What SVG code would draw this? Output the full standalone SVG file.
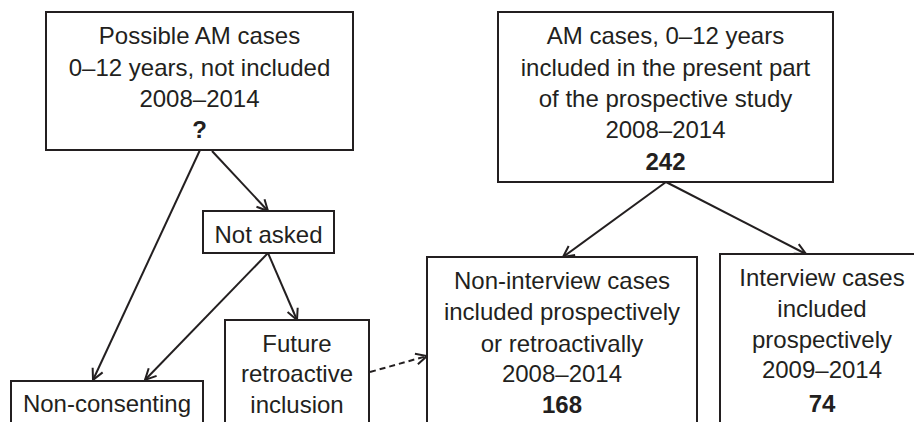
<svg xmlns="http://www.w3.org/2000/svg" width="914" height="422" viewBox="0 0 914 422">
<style>
.box{fill:#fff;stroke:#231f20;stroke-width:2}
.t{font-family:"Liberation Sans",Arial,sans-serif;font-size:24px;fill:#231f20;text-anchor:middle}
.b{font-weight:bold}
.c{stroke:#231f20;stroke-width:2;fill:none;marker-end:url(#ah)}
.d{stroke-dasharray:6,4}
</style>
<defs>
<marker id="ah" markerUnits="userSpaceOnUse" markerWidth="14" markerHeight="14" viewBox="0 0 14 14" refX="12" refY="7" orient="auto">
<path d="M1,1.5 L12,7 L1,12.5" fill="none" stroke="#231f20" stroke-width="2"/>
</marker>
</defs>
<rect width="914" height="422" fill="#fff"/>
<g id="connectors">
<line class="c" x1="200" y1="150" x2="93" y2="380"/>
<line class="c" x1="212" y1="151" x2="268" y2="211"/>
<line class="c" x1="268" y1="253" x2="145" y2="380"/>
<line class="c" x1="268" y1="253" x2="297" y2="320"/>
<line class="c d" x1="370" y1="372" x2="427" y2="356"/>
<line class="c" x1="666" y1="182" x2="563" y2="257"/>
<line class="c" x1="666" y1="182" x2="806" y2="254"/>
</g>
<g id="possible">
<rect class="box" x="46" y="12" width="307" height="138"/>
<text class="t" x="199.5" y="44">Possible AM cases</text>
<text class="t" x="199.5" y="76">0–12 years, not included</text>
<text class="t" x="199.5" y="107">2008–2014</text>
<text class="t b" x="199.5" y="138">?</text>
</g>
<g id="included">
<rect class="box" x="498" y="12" width="335" height="170"/>
<text class="t" x="665.5" y="44">AM cases, 0–12 years</text>
<text class="t" x="665.5" y="76">included in the present part</text>
<text class="t" x="665.5" y="107">of the prospective study</text>
<text class="t" x="665.5" y="138">2008–2014</text>
<text class="t b" x="665.5" y="170">242</text>
</g>
<g id="notasked">
<rect class="box" x="203" y="211" width="131" height="42"/>
<text class="t" x="268.5" y="243">Not asked</text>
</g>
<g id="future">
<rect class="box" x="225" y="320" width="144" height="110"/>
<text class="t" x="297" y="352">Future</text>
<text class="t" x="297" y="382">retroactive</text>
<text class="t" x="297" y="413">inclusion</text>
</g>
<g id="nonconsenting">
<rect class="box" x="11" y="381" width="192" height="50"/>
<text class="t" x="107" y="412">Non-consenting</text>
</g>
<g id="noninterview">
<rect class="box" x="427" y="257" width="270" height="175"/>
<text class="t" x="562" y="289">Non-interview cases</text>
<text class="t" x="562" y="320">included prospectively</text>
<text class="t" x="562" y="352">or retroactivally</text>
<text class="t" x="562" y="382">2008–2014</text>
<text class="t b" x="562" y="413">168</text>
</g>
<g id="interview">
<rect class="box" x="720" y="254" width="204" height="178"/>
<text class="t" x="822" y="286">Interview cases</text>
<text class="t" x="822" y="317">included</text>
<text class="t" x="822" y="348">prospectively</text>
<text class="t" x="822" y="378">2009–2014</text>
<text class="t b" x="822" y="412">74</text>
</g>
</svg>
